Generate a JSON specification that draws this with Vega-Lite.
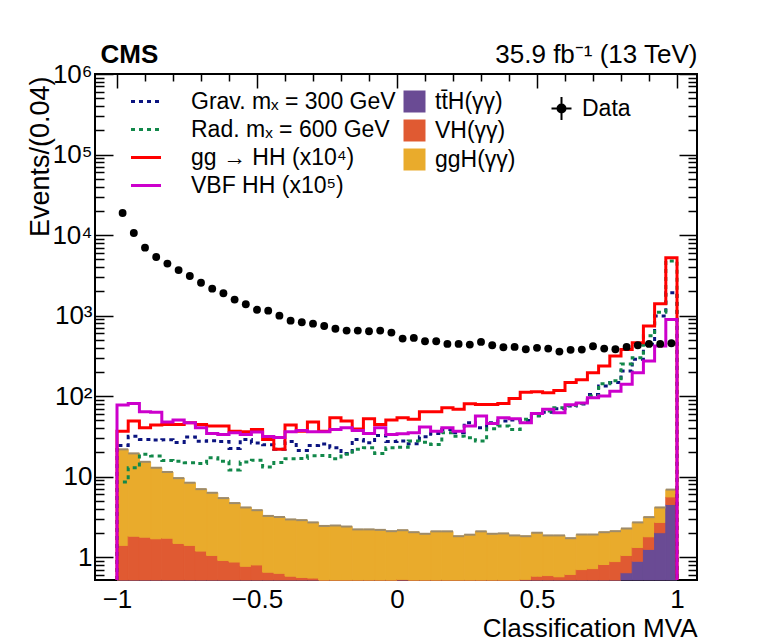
{
  "$schema": "https://vega.github.io/schema/vega-lite/v6.json",
  "width": 602,
  "height": 506,
  "autosize": {"type": "none"},
  "padding": {"left": 95, "top": 74, "right": 78, "bottom": 63},
  "background": "white",
  "config": {
    "font": "Liberation Sans",
    "view": {"stroke": "black", "strokeWidth": 2},
    "axis": {"domain": false, "grid": false, "tickColor": "black", "tickWidth": 1.5, "labelColor": "black", "titleColor": "black", "labelFont": "Liberation Sans", "titleFont": "Liberation Sans", "titleFontWeight": "normal", "zindex": 1},
    "legend": {"labelFont": "Liberation Sans", "labelFontSize": 23, "labelColor": "black", "labelLimit": 0, "padding": 0, "title": null}
  },
  "datasets": {
    "bins": [
      {"lo": -1.00, "hi": -0.96, "tth": 0.02, "vh": 1.38, "ggh": 20.4, "data": 18750},
      {"lo": -0.96, "hi": -0.92, "tth": 0.02, "vh": 1.80, "ggh": 17.6, "data": 10590},
      {"lo": -0.92, "hi": -0.88, "tth": 0.02, "vh": 1.75, "ggh": 13.5, "data": 6970},
      {"lo": -0.88, "hi": -0.84, "tth": 0.02, "vh": 1.67, "ggh": 11.2, "data": 5330},
      {"lo": -0.84, "hi": -0.80, "tth": 0.02, "vh": 1.70, "ggh": 9.7, "data": 4420},
      {"lo": -0.80, "hi": -0.76, "tth": 0.02, "vh": 1.46, "ggh": 8.1, "data": 3670},
      {"lo": -0.76, "hi": -0.72, "tth": 0.02, "vh": 1.38, "ggh": 7.0, "data": 3100},
      {"lo": -0.72, "hi": -0.68, "tth": 0.02, "vh": 1.17, "ggh": 5.8, "data": 2560},
      {"lo": -0.68, "hi": -0.64, "tth": 0.02, "vh": 1.03, "ggh": 5.25, "data": 2160},
      {"lo": -0.64, "hi": -0.60, "tth": 0.02, "vh": 0.89, "ggh": 4.5, "data": 1890},
      {"lo": -0.60, "hi": -0.56, "tth": 0.02, "vh": 0.85, "ggh": 3.82, "data": 1580},
      {"lo": -0.56, "hi": -0.52, "tth": 0.02, "vh": 0.75, "ggh": 3.37, "data": 1380},
      {"lo": -0.52, "hi": -0.48, "tth": 0.02, "vh": 0.78, "ggh": 3.03, "data": 1180},
      {"lo": -0.48, "hi": -0.44, "tth": 0.02, "vh": 0.63, "ggh": 2.6, "data": 1150},
      {"lo": -0.44, "hi": -0.40, "tth": 0.02, "vh": 0.61, "ggh": 2.52, "data": 997},
      {"lo": -0.40, "hi": -0.36, "tth": 0.02, "vh": 0.56, "ggh": 2.36, "data": 865},
      {"lo": -0.36, "hi": -0.32, "tth": 0.02, "vh": 0.54, "ggh": 2.32, "data": 825},
      {"lo": -0.32, "hi": -0.28, "tth": 0.02, "vh": 0.53, "ggh": 2.15, "data": 793},
      {"lo": -0.28, "hi": -0.24, "tth": 0.02, "vh": 0.50, "ggh": 1.92, "data": 741},
      {"lo": -0.24, "hi": -0.20, "tth": 0.02, "vh": 0.48, "ggh": 1.97, "data": 687},
      {"lo": -0.20, "hi": -0.16, "tth": 0.03, "vh": 0.46, "ggh": 1.91, "data": 651},
      {"lo": -0.16, "hi": -0.12, "tth": 0.03, "vh": 0.45, "ggh": 1.73, "data": 651},
      {"lo": -0.12, "hi": -0.08, "tth": 0.03, "vh": 0.44, "ggh": 1.74, "data": 638},
      {"lo": -0.08, "hi": -0.04, "tth": 0.03, "vh": 0.44, "ggh": 1.71, "data": 651},
      {"lo": -0.04, "hi": 0.00, "tth": 0.03, "vh": 0.45, "ggh": 1.62, "data": 615},
      {"lo": 0.00, "hi": 0.04, "tth": 0.03, "vh": 0.50, "ggh": 1.63, "data": 518},
      {"lo": 0.04, "hi": 0.08, "tth": 0.03, "vh": 0.47, "ggh": 1.54, "data": 528},
      {"lo": 0.08, "hi": 0.12, "tth": 0.03, "vh": 0.46, "ggh": 1.46, "data": 480},
      {"lo": 0.12, "hi": 0.16, "tth": 0.03, "vh": 0.45, "ggh": 1.61, "data": 480},
      {"lo": 0.16, "hi": 0.20, "tth": 0.03, "vh": 0.44, "ggh": 1.62, "data": 445},
      {"lo": 0.20, "hi": 0.24, "tth": 0.04, "vh": 0.44, "ggh": 1.34, "data": 445},
      {"lo": 0.24, "hi": 0.28, "tth": 0.04, "vh": 0.44, "ggh": 1.42, "data": 436},
      {"lo": 0.28, "hi": 0.32, "tth": 0.04, "vh": 0.46, "ggh": 1.59, "data": 471},
      {"lo": 0.32, "hi": 0.36, "tth": 0.04, "vh": 0.46, "ggh": 1.45, "data": 428},
      {"lo": 0.36, "hi": 0.40, "tth": 0.04, "vh": 0.47, "ggh": 1.46, "data": 404},
      {"lo": 0.40, "hi": 0.44, "tth": 0.04, "vh": 0.48, "ggh": 1.34, "data": 408},
      {"lo": 0.44, "hi": 0.48, "tth": 0.05, "vh": 0.48, "ggh": 1.29, "data": 381},
      {"lo": 0.48, "hi": 0.52, "tth": 0.06, "vh": 0.52, "ggh": 1.43, "data": 397},
      {"lo": 0.52, "hi": 0.56, "tth": 0.07, "vh": 0.52, "ggh": 1.27, "data": 389},
      {"lo": 0.56, "hi": 0.60, "tth": 0.09, "vh": 0.48, "ggh": 1.29, "data": 357},
      {"lo": 0.60, "hi": 0.64, "tth": 0.12, "vh": 0.49, "ggh": 1.11, "data": 375},
      {"lo": 0.64, "hi": 0.68, "tth": 0.15, "vh": 0.55, "ggh": 1.21, "data": 378},
      {"lo": 0.68, "hi": 0.72, "tth": 0.20, "vh": 0.52, "ggh": 1.19, "data": 416},
      {"lo": 0.72, "hi": 0.76, "tth": 0.28, "vh": 0.53, "ggh": 1.23, "data": 389},
      {"lo": 0.76, "hi": 0.80, "tth": 0.42, "vh": 0.46, "ggh": 1.22, "data": 381},
      {"lo": 0.80, "hi": 0.84, "tth": 0.64, "vh": 0.41, "ggh": 1.22, "data": 408},
      {"lo": 0.84, "hi": 0.88, "tth": 0.89, "vh": 0.43, "ggh": 1.38, "data": 428},
      {"lo": 0.88, "hi": 0.92, "tth": 1.25, "vh": 0.54, "ggh": 1.35, "data": 445},
      {"lo": 0.92, "hi": 0.96, "tth": 2.01, "vh": 0.69, "ggh": 1.44, "data": 445},
      {"lo": 0.96, "hi": 1.00, "tth": 4.5, "vh": 1.1, "ggh": 1.3, "data": 453}
    ],
    "sig": [
      {"i": 0, "x": -1.00, "grav": 0, "rad": 0, "gghh": 0, "vbf": 0},
      {"i": 1, "x": -1.00, "grav": 24.4, "rad": 8.6, "gghh": 36.7, "vbf": 77.3},
      {"i": 2, "x": -0.96, "grav": 31.6, "rad": 12.9, "gghh": 48.9, "vbf": 81.1},
      {"i": 3, "x": -0.92, "grav": 29.0, "rad": 18.9, "gghh": 40.4, "vbf": 63.9},
      {"i": 4, "x": -0.88, "grav": 28.4, "rad": 18.0, "gghh": 43.6, "vbf": 63.2},
      {"i": 5, "x": -0.84, "grav": 28.7, "rad": 15.9, "gghh": 44.5, "vbf": 47.5},
      {"i": 6, "x": -0.80, "grav": 26.6, "rad": 15.5, "gghh": 44.5, "vbf": 50.4},
      {"i": 7, "x": -0.76, "grav": 31.1, "rad": 14.9, "gghh": 46.8, "vbf": 46.8},
      {"i": 8, "x": -0.72, "grav": 27.4, "rad": 14.6, "gghh": 44.5, "vbf": 40.5},
      {"i": 9, "x": -0.68, "grav": 27.9, "rad": 17.2, "gghh": 42.4, "vbf": 34.4},
      {"i": 10, "x": -0.64, "grav": 27.2, "rad": 15.5, "gghh": 42.4, "vbf": 33.4},
      {"i": 11, "x": -0.60, "grav": 22.4, "rad": 12.1, "gghh": 36.7, "vbf": 35.1},
      {"i": 12, "x": -0.56, "grav": 29.0, "rad": 15.2, "gghh": 36.1, "vbf": 33.4},
      {"i": 13, "x": -0.52, "grav": 26.1, "rad": 16.0, "gghh": 38.5, "vbf": 35.7},
      {"i": 14, "x": -0.48, "grav": 24.9, "rad": 13.2, "gghh": 29.0, "vbf": 31.4},
      {"i": 15, "x": -0.44, "grav": 21.8, "rad": 15.0, "gghh": 21.8, "vbf": 30.7},
      {"i": 16, "x": -0.40, "grav": 27.2, "rad": 16.7, "gghh": 43.6, "vbf": 36.1},
      {"i": 17, "x": -0.36, "grav": 21.1, "rad": 16.8, "gghh": 36.7, "vbf": 37.5},
      {"i": 18, "x": -0.32, "grav": 24.4, "rad": 18.2, "gghh": 47.5, "vbf": 36.1},
      {"i": 19, "x": -0.28, "grav": 25.5, "rad": 18.3, "gghh": 36.7, "vbf": 36.1},
      {"i": 20, "x": -0.24, "grav": 22.9, "rad": 16.7, "gghh": 54.0, "vbf": 38.5},
      {"i": 21, "x": -0.20, "grav": 19.4, "rad": 18.9, "gghh": 48.9, "vbf": 40.5},
      {"i": 22, "x": -0.16, "grav": 29.0, "rad": 21.8, "gghh": 38.9, "vbf": 37.5},
      {"i": 23, "x": -0.12, "grav": 26.4, "rad": 22.9, "gghh": 52.4, "vbf": 34.4},
      {"i": 24, "x": -0.08, "grav": 32.5, "rad": 19.4, "gghh": 44.5, "vbf": 40.5},
      {"i": 25, "x": -0.04, "grav": 27.2, "rad": 22.9, "gghh": 50.4, "vbf": 33.4},
      {"i": 26, "x": 0.00, "grav": 27.6, "rad": 23.2, "gghh": 54.0, "vbf": 34.1},
      {"i": 27, "x": 0.04, "grav": 25.6, "rad": 27.6, "gghh": 51.4, "vbf": 35.1},
      {"i": 28, "x": 0.08, "grav": 31.3, "rad": 26.8, "gghh": 64.0, "vbf": 41.2},
      {"i": 29, "x": 0.12, "grav": 34.4, "rad": 25.1, "gghh": 64.0, "vbf": 36.7},
      {"i": 30, "x": 0.16, "grav": 38.5, "rad": 35.1, "gghh": 71.8, "vbf": 40.5},
      {"i": 31, "x": 0.20, "grav": 35.1, "rad": 31.8, "gghh": 68.4, "vbf": 36.7},
      {"i": 32, "x": 0.24, "grav": 46.8, "rad": 30.4, "gghh": 80.5, "vbf": 42.4},
      {"i": 33, "x": 0.28, "grav": 40.5, "rad": 27.6, "gghh": 78.8, "vbf": 56.5},
      {"i": 34, "x": 0.32, "grav": 46.8, "rad": 39.4, "gghh": 78.8, "vbf": 45.8},
      {"i": 35, "x": 0.36, "grav": 48.9, "rad": 42.4, "gghh": 81.1, "vbf": 54.0},
      {"i": 36, "x": 0.40, "grav": 50.4, "rad": 38.5, "gghh": 93.5, "vbf": 52.4},
      {"i": 37, "x": 0.44, "grav": 49.9, "rad": 51.4, "gghh": 112, "vbf": 46.8},
      {"i": 38, "x": 0.48, "grav": 57.6, "rad": 56.5, "gghh": 113, "vbf": 60.9},
      {"i": 39, "x": 0.52, "grav": 63.2, "rad": 65.2, "gghh": 110, "vbf": 68.4},
      {"i": 40, "x": 0.56, "grav": 69.7, "rad": 71.8, "gghh": 117, "vbf": 62.0},
      {"i": 41, "x": 0.60, "grav": 75.1, "rad": 76.6, "gghh": 148, "vbf": 78.0},
      {"i": 42, "x": 0.64, "grav": 80, "rad": 81, "gghh": 159, "vbf": 82.0},
      {"i": 43, "x": 0.68, "grav": 105, "rad": 100, "gghh": 195, "vbf": 95.5},
      {"i": 44, "x": 0.72, "grav": 133, "rad": 142, "gghh": 236, "vbf": 100},
      {"i": 45, "x": 0.76, "grav": 147, "rad": 155, "gghh": 314, "vbf": 115},
      {"i": 46, "x": 0.80, "grav": 205, "rad": 250, "gghh": 380, "vbf": 140},
      {"i": 47, "x": 0.84, "grav": 286, "rad": 300, "gghh": 460, "vbf": 195},
      {"i": 48, "x": 0.88, "grav": 439, "rad": 560, "gghh": 741, "vbf": 272},
      {"i": 49, "x": 0.92, "grav": 986, "rad": 1100, "gghh": 1406, "vbf": 418},
      {"i": 50, "x": 0.96, "grav": 1923, "rad": 4750, "gghh": 5240, "vbf": 896},
      {"i": 51, "x": 1.00, "grav": 1923, "rad": 4750, "gghh": 5240, "vbf": 896},
      {"i": 52, "x": 1.00, "grav": 0, "rad": 0, "gghh": 0, "vbf": 0}
    ]
  },
  "layer": [
    {
      "data": {"name": "bins"},
      "transform": [
        {"fold": ["tth", "vh", "ggh"], "as": ["proc", "n"]},
        {"stack": "n", "groupby": ["lo"], "as": ["s0", "s1"]}
      ],
      "mark": {"type": "rect", "strokeWidth": 1, "stroke": {"expr": "datum.proc == 'tth' ? '#6a4b94' : datum.proc == 'vh' ? '#e05a32' : '#e9ab2c'"}},
      "encoding": {
        "x": {"field": "lo", "type": "quantitative",
          "scale": {"domain": [-1.0786, 1.0714], "nice": false, "zero": false},
          "axis": {"orient": "bottom", "values": [-1, -0.5, 0, 0.5, 1], "tickSize": -14, "labelPadding": 20, "labelFontSize": 26,
            "labelExpr": "datum.value == 0 ? '0' : datum.value == 1 ? '1' : datum.value == -1 ? '−1' : datum.value == 0.5 ? '0.5' : '−0.5'",
            "title": "Classification MVA", "titleFontSize": 26, "titleX": 602, "titleY": 56, "titleAlign": "right", "titleBaseline": "alphabetic"}},
        "x2": {"field": "hi"},
        "y": {"field": "s1", "type": "quantitative",
          "scale": {"type": "log", "domain": [0.52, 1000000], "nice": false, "clamp": true},
          "axis": {"orient": "left", "values": [1, 10, 100, 1000, 10000, 100000, 1000000], "tickSize": -18, "labelPadding": 21, "labelFontSize": 26,
            "labelExpr": "datum.value == 1 ? '1' : datum.value == 10 ? '10' : datum.value == 100 ? '10²' : datum.value == 1000 ? '10³' : datum.value == 10000 ? '10⁴' : datum.value == 100000 ? '10⁵' : '10⁶'",
            "title": "Events/(0.04)", "titleFontSize": 27, "titleAngle": 270, "titleX": -47, "titleY": 2, "titleAlign": "right", "titleBaseline": "alphabetic"}},
        "y2": {"field": "s0"},
        "fill": {"field": "proc", "type": "nominal",
          "scale": {"domain": ["tth", "vh", "ggh"], "range": ["#6a4b94", "#e05a32", "#e9ab2c"]},
          "legend": {"orient": "none", "legendX": 308, "legendY": 16, "symbolType": "square", "symbolSize": 484, "symbolStrokeWidth": 0, "symbolOpacity": 1, "labelOffset": 9, "rowPadding": 5,
            "labelExpr": "datum.label == 'tth' ? 'tt̄H(γγ)' : datum.label == 'vh' ? 'VH(γγ)' : 'ggH(γγ)'"}}
      }
    },
    {
      "data": {"name": "bins"},
      "transform": [
        {"fold": ["tth", "vh", "ggh"], "as": ["proc", "n"]},
        {"stack": "n", "groupby": ["lo"], "as": ["s0", "s1"]},
        {"filter": "datum.proc == 'ggh'"}
      ],
      "mark": {"type": "rule", "color": "#9d8b6b", "strokeWidth": 2},
      "encoding": {
        "x": {"field": "lo", "type": "quantitative",
          "scale": {"domain": [-1.0786, 1.0714], "nice": false, "zero": false},
          "axis": {"orient": "bottom", "values": [-0.9, -0.8, -0.7, -0.6, -0.4, -0.3, -0.2, -0.1, 0.1, 0.2, 0.3, 0.4, 0.6, 0.7, 0.8, 0.9], "tickSize": -7, "labels": false, "title": null}},
        "x2": {"field": "hi"},
        "y": {"field": "s1", "type": "quantitative",
          "scale": {"type": "log", "domain": [0.52, 1000000], "nice": false, "clamp": true},
          "axis": {"orient": "left", "values": [0.6, 0.7, 0.8, 0.9, 2, 3, 4, 5, 6, 7, 8, 9, 20, 30, 40, 50, 60, 70, 80, 90, 200, 300, 400, 500, 600, 700, 800, 900, 2000, 3000, 4000, 5000, 6000, 7000, 8000, 9000, 20000, 30000, 40000, 50000, 60000, 70000, 80000, 90000, 200000, 300000, 400000, 500000, 600000, 700000, 800000, 900000],
            "tickSize": -9, "labels": false,
            "title": "CMS", "titleAngle": 0, "titleX": 5, "titleY": -12, "titleAlign": "left", "titleBaseline": "alphabetic", "titleFontWeight": "bold", "titleFontSize": 26}},
        "opacity": {"datum": "Data", "type": "ordinal",
          "scale": {"domain": ["Data"], "range": [1, 1]},
          "legend": {"orient": "none", "legendX": 455, "legendY": 23, "symbolSize": 400, "labelOffset": 9,
            "symbolType": "M-1,0H1M0,-1.15V1.15M-0.4,0A0.4,0.4 0 1 0 0.4,0A0.4,0.4 0 1 0 -0.4,0Z",
            "symbolFillColor": "black", "symbolStrokeColor": "black", "symbolStrokeWidth": 2}}
      }
    },
    {
      "data": {"name": "sig"},
      "transform": [{"fold": ["grav", "rad", "gghh", "vbf"], "as": ["sig", "n"]}],
      "mark": {"type": "line", "interpolate": "step-after", "strokeWidth": 3},
      "encoding": {
        "x": {"field": "x", "type": "quantitative",
          "scale": {"domain": [-1.0786, 1.0714], "nice": false, "zero": false},
          "axis": {"orient": "top", "values": [-1, -0.5, 0, 0.5, 1], "tickSize": -14, "labels": false,
            "title": "35.9 fb⁻¹ (13 TeV)", "titleFontSize": 26, "titleX": 602, "titleY": -12, "titleAlign": "right", "titleBaseline": "alphabetic"}},
        "y": {"field": "n", "type": "quantitative",
          "scale": {"type": "log", "domain": [0.52, 1000000], "nice": false, "clamp": true},
          "axis": {"orient": "right", "values": [1, 10, 100, 1000, 10000, 100000, 1000000], "tickSize": -18, "labels": false, "title": null}},
        "order": {"field": "i", "type": "quantitative"},
        "stroke": {"field": "sig", "type": "nominal",
          "scale": {"domain": ["grav", "rad", "gghh", "vbf"], "range": ["#0b1480", "#12884a", "#ff0000", "#cc00cc"]},
          "legend": {"orient": "none", "legendX": 39.5, "legendY": 16, "symbolType": "M-2,0H2", "symbolSize": 225, "symbolStrokeWidth": 3, "labelOffset": 33.5, "rowPadding": 4,
            "labelExpr": "datum.label == 'grav' ? 'Grav. mₓ = 300 GeV' : datum.label == 'rad' ? 'Rad. mₓ = 600 GeV' : datum.label == 'gghh' ? 'gg → HH (x10⁴)' : 'VBF HH (x10⁵)'"}},
        "strokeDash": {"field": "sig", "type": "nominal",
          "scale": {"domain": ["grav", "rad", "gghh", "vbf"], "range": [[4, 4], [4, 4], [1, 0], [1, 0]]},
          "legend": {"orient": "none", "legendX": 39.5, "legendY": 16, "symbolType": "M-2,0H2", "symbolSize": 225, "symbolStrokeWidth": 3, "labelOffset": 33.5, "rowPadding": 4,
            "labelExpr": "datum.label == 'grav' ? 'Grav. mₓ = 300 GeV' : datum.label == 'rad' ? 'Rad. mₓ = 600 GeV' : datum.label == 'gghh' ? 'gg → HH (x10⁴)' : 'VBF HH (x10⁵)'"}}
      }
    },
    {
      "data": {"name": "bins"},
      "mark": {"type": "point", "filled": true, "size": 62, "color": "black", "opacity": 1},
      "encoding": {
        "x": {"field": "lo", "type": "quantitative", "bin": "binned",
          "scale": {"domain": [-1.0786, 1.0714], "nice": false, "zero": false},
          "axis": {"orient": "top", "values": [-0.9, -0.8, -0.7, -0.6, -0.4, -0.3, -0.2, -0.1, 0.1, 0.2, 0.3, 0.4, 0.6, 0.7, 0.8, 0.9], "tickSize": -7, "labels": false, "title": null}},
        "x2": {"field": "hi"},
        "y": {"field": "data", "type": "quantitative",
          "scale": {"type": "log", "domain": [0.52, 1000000], "nice": false, "clamp": true},
          "axis": {"orient": "right", "values": [0.6, 0.7, 0.8, 0.9, 2, 3, 4, 5, 6, 7, 8, 9, 20, 30, 40, 50, 60, 70, 80, 90, 200, 300, 400, 500, 600, 700, 800, 900, 2000, 3000, 4000, 5000, 6000, 7000, 8000, 9000, 20000, 30000, 40000, 50000, 60000, 70000, 80000, 90000, 200000, 300000, 400000, 500000, 600000, 700000, 800000, 900000],
            "tickSize": -9, "labels": false, "title": null}}
      }
    }
  ],
  "resolve": {"axis": {"x": "independent", "y": "independent"}}
}
